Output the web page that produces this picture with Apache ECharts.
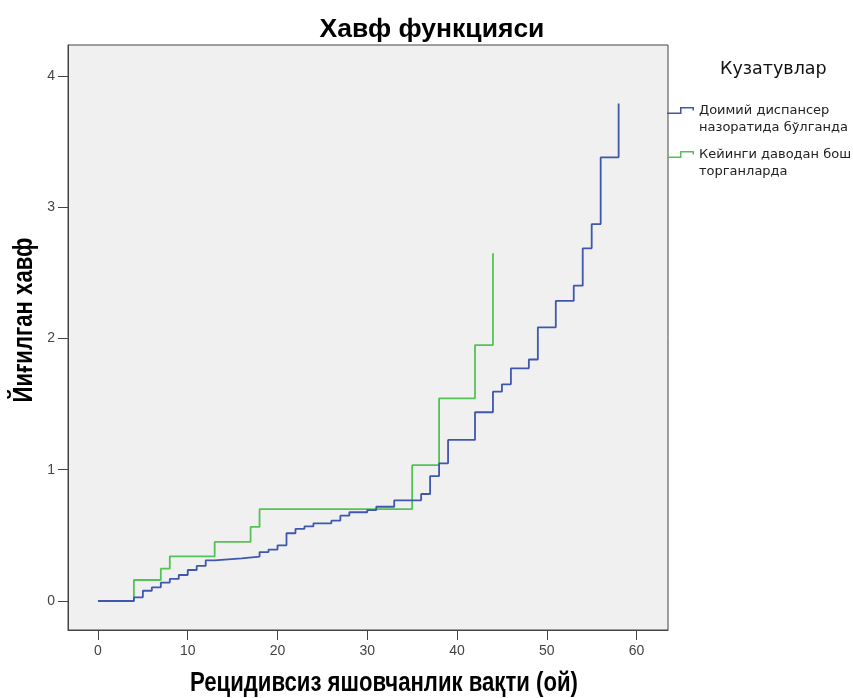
<!DOCTYPE html>
<html>
<head>
<meta charset="utf-8">
<script src="https://cdn.jsdelivr.net/npm/echarts@6/dist/echarts.min.js"></script>
<style>
  html, body { margin: 0; padding: 0; background: #ffffff; }
  #chart { width: 853px; height: 698px; }
</style>
</head>
<body>
<div id="chart"></div>
<script>
// Cumulative hazard step curves (months vs. hazard)
const seriesNames = ['Доимий диспансер назоратида бўлганда', 'Кейинги даводан бош торганларда'];
const legendLabels = ['Доимий диспансер\nназоратида бўлганда', 'Кейинги даводан бош\nторганларда'];
const xAxisTitle = 'Рецидивсиз яшовчанлик вақти (ой)';
const yAxisTitle = 'Йиғилган хавф';

const dispTimes  = [0, 4, 5, 6, 7, 8, 9, 10, 11, 12, 13, 16, 18, 19, 20, 21, 22, 23, 24, 26, 27, 28, 30, 31, 33, 36, 37, 38, 39, 42, 44, 45, 46, 48, 49, 51, 53, 54, 55, 56, 58];
const dispHazard = [0, 0.028, 0.078, 0.104, 0.14, 0.168, 0.198, 0.236, 0.267, 0.31, 0.325, 0.338, 0.373, 0.392, 0.424, 0.516, 0.549, 0.568, 0.592, 0.612, 0.65, 0.676, 0.693, 0.718, 0.767, 0.815, 0.952, 1.049, 1.227, 1.438, 1.595, 1.651, 1.773, 1.84, 2.085, 2.286, 2.402, 2.687, 2.872, 3.38, 3.79];

const relTimes  = [0, 4, 7, 8, 13, 17, 18, 35, 38, 42, 44];
const relHazard = [0, 0.16, 0.246, 0.34, 0.45, 0.564, 0.70, 1.035, 1.544, 1.95, 2.65];

const xTicks = [0, 10, 20, 30, 40, 50, 60];
const yTicks = [0, 1, 2, 3, 4];

const colors = ['#3f57ad', '#55c255'];

const pairs = (xs, ys) => xs.map((x, i) => [x, ys[i]]);

// step-shaped legend glyph (low run, riser, high run, short drop);
// the zero-area point at y=24 keeps the glyph in the top part of the box,
// level with the first line of the two-line label
const stepIcon = 'path://M0,5.5 L13,5.5 L13,0 L27,0 L27,3.5 L25.5,3.5 L25.5,1.5 L14.5,1.5 L14.5,7 L0,7 Z M0,24 L0.001,24 L0,24 Z';

const titleFont = 'bold 27px "Liberation Sans", Arial, sans-serif';

const chart = echarts.init(document.getElementById('chart'), null, { renderer: 'canvas' });

chart.setOption({
  backgroundColor: '#ffffff',
  animation: false,
  title: [
    {
      text: 'Хавф функцияси',
      left: 427,
      top: 11,
      textAlign: 'center',
      textStyle: { fontFamily: 'Liberation Sans, Arial, sans-serif', fontWeight: 'bold', fontSize: 26.5, color: '#000' }
    },
    {
      text: 'Кузатувлар',
      left: 715,
      top: 55,
      textStyle: { fontFamily: 'DejaVu Sans, sans-serif', fontWeight: 'normal', fontSize: 17.5, color: '#111' }
    }
  ],
  legend: {
    orient: 'vertical',
    left: 667,
    top: 102,
    padding: 0,
    itemWidth: 27,
    itemHeight: 24,
    itemGap: 10,
    icon: stepIcon,
    data: seriesNames,
    formatter: name => legendLabels[seriesNames.indexOf(name)],
    textStyle: { fontFamily: 'DejaVu Sans, sans-serif', fontSize: 13, color: '#222', lineHeight: 17 }
  },
  grid: {
    left: 68,
    right: 185,
    top: 45,
    bottom: 68,
    show: true,
    backgroundColor: '#f0f0f0',
    borderColor: '#444',
    borderWidth: 1
  },
  xAxis: {
    type: 'value',
    min: -3.34,
    max: 63.5,
    axisLine: { show: true, onZero: false, lineStyle: { color: '#444', width: 1 } },
    axisTick: { show: true, length: 10, lineStyle: { color: '#444', width: 1 }, customValues: xTicks },
    axisLabel: { margin: 14, fontFamily: 'Liberation Sans, Arial, sans-serif', fontSize: 14, color: '#444', customValues: xTicks },
    splitLine: { show: false }
  },
  yAxis: {
    type: 'value',
    min: -0.221,
    max: 4.236,
    axisLine: { show: true, onZero: false, lineStyle: { color: '#444', width: 1 } },
    axisTick: { show: true, length: 10, lineStyle: { color: '#444', width: 1 }, customValues: yTicks },
    axisLabel: { margin: 13, fontFamily: 'Liberation Sans, Arial, sans-serif', fontSize: 14, color: '#444', customValues: yTicks },
    splitLine: { show: false }
  },
  // axis titles, set in a condensed bold face
  graphic: [
    {
      type: 'text',
      x: 384,
      y: 684,
      scaleX: 0.82,
      style: { text: xAxisTitle, font: titleFont, fill: '#000', align: 'center', verticalAlign: 'middle' }
    },
    {
      type: 'text',
      x: 25,
      y: 320,
      rotation: Math.PI / 2,
      scaleX: 0.82,
      style: { text: yAxisTitle, font: titleFont, fill: '#000', align: 'center', verticalAlign: 'middle' }
    }
  ],
  series: [
    {
      name: seriesNames[0],
      type: 'line',
      step: 'end',
      showSymbol: false,
      color: colors[0],
      lineStyle: { color: colors[0], width: 1.8 },
      data: pairs(dispTimes, dispHazard),
      z: 3
    },
    {
      name: seriesNames[1],
      type: 'line',
      step: 'end',
      showSymbol: false,
      color: colors[1],
      lineStyle: { color: colors[1], width: 1.8 },
      data: pairs(relTimes, relHazard),
      z: 2
    }
  ]
});
</script>
</body>
</html>
